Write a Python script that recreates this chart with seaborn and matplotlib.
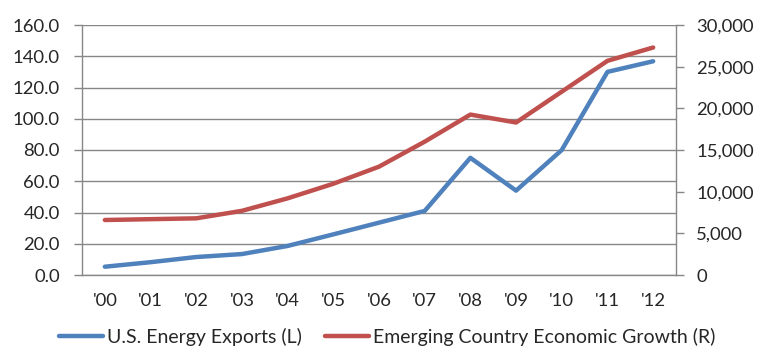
import numpy as np
import pandas as pd
import matplotlib
matplotlib.use("Agg")
import matplotlib.pyplot as plt
from matplotlib.ticker import FuncFormatter
import seaborn as sns

sns.set_theme(style="white")
plt.rcParams["font.family"] = ["Lato", "DejaVu Sans"]

years = ["'00", "'01", "'02", "'03", "'04", "'05", "'06",
         "'07", "'08", "'09", "'10", "'11", "'12"]
energy_exports = [5.3, 8.2, 11.5, 13.4, 18.6, 26.0, 33.5,
                  41.0, 75.0, 54.0, 80.0, 130.0, 136.8]
emerging_growth = [6600, 6700, 6800, 7700, 9200, 10950, 13000,
                   16000, 19250, 18300, 22000, 25700, 27300]

BLUE = "#4F81BD"
RED = "#C0504D"
GRID = "#878787"
TICK_FS = 13.3

df = pd.DataFrame({"pos": np.arange(len(years)),
                   "exports": energy_exports,
                   "growth": emerging_growth})

fig = plt.figure(figsize=(7.64, 3.59), dpi=100)
ax = fig.add_axes([82 / 764, 84 / 359, 594 / 764, 250 / 359])
ax2 = ax.twinx()

sns.lineplot(data=df, x="pos", y="exports", ax=ax, color=BLUE, linewidth=3.2,
             label="U.S. Energy Exports (L)", legend=False)
sns.lineplot(data=df, x="pos", y="growth", ax=ax2, color=RED, linewidth=3.2,
             label="Emerging Country Economic Growth (R)", legend=False)
ax.lines[0].set_solid_capstyle("round")
ax2.lines[0].set_solid_capstyle("round")

# left axis
ax.set_ylim(0, 160)
ax.set_yticks(np.arange(0, 161, 20))
ax.yaxis.set_major_formatter(FuncFormatter(lambda v, p: f"{v:.1f}"))
ax.grid(axis="y", color=GRID, linewidth=1)
ax.set_axisbelow(True)

# right axis
ax2.set_ylim(0, 30000)
ax2.set_yticks(np.arange(0, 30001, 5000))
ax2.yaxis.set_major_formatter(FuncFormatter(lambda v, p: f"{int(v):,}"))
ax2.grid(False)

# category axis: labels centred, tick marks between categories
ax.set_xlim(-0.5, len(years) - 0.5)
ax.set_xticks(np.arange(len(years)))
ax.set_xticklabels(years)
ax.set_xticks(np.arange(len(years) + 1) - 0.5, minor=True)
ax.tick_params(axis="x", which="major", length=0, pad=13, labelsize=TICK_FS)
ax.tick_params(axis="x", which="minor", length=6, width=1, color=GRID, direction="out")
ax.tick_params(axis="y", length=6, width=1, color=GRID, direction="out", pad=10,
               labelsize=TICK_FS, left=True)
ax2.tick_params(axis="y", length=6, width=1, color=GRID, direction="out", pad=8.5,
                labelsize=TICK_FS, right=True)
ax.set_xlabel("")
ax.set_ylabel("")
ax2.set_ylabel("")

for a in (ax, ax2):
    a.spines["top"].set_visible(False)
    for side in ("left", "right", "bottom"):
        a.spines[side].set_color(GRID)
        a.spines[side].set_linewidth(1)
ax.spines["right"].set_visible(False)
ax2.spines["left"].set_visible(False)
ax2.spines["bottom"].set_visible(False)

handles = ax.lines[:1] + ax2.lines[:1]
labels = ["U.S. Energy Exports (L)", "Emerging Country Economic Growth (R)"]
fig.legend(handles, labels, loc="center", bbox_to_anchor=(387 / 764, 22 / 359),
           ncol=2, frameon=False, fontsize=14, handlelength=2.27, handletextpad=0.2,
           columnspacing=1.18, borderpad=0, borderaxespad=0)

fig.savefig("out.png", dpi=100)
